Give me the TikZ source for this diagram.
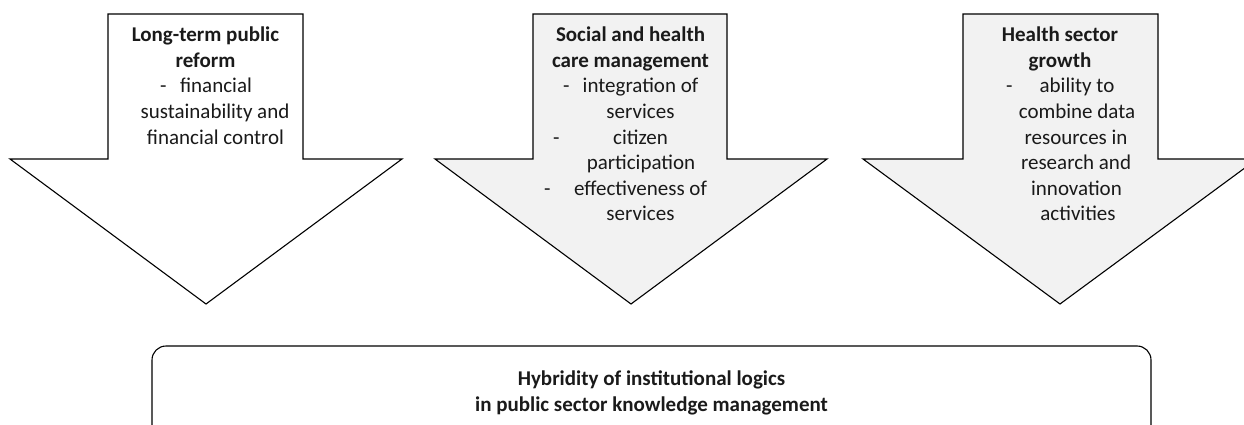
\documentclass[tikz,border=0pt]{standalone}
\usepackage{fontspec}
\setmainfont{Carlito}
\definecolor{arrowgray}{HTML}{F2F2F2}
\definecolor{ink}{HTML}{1A1A1A}
\begin{document}
\begin{tikzpicture}[x=1pt,y=-1pt,
  arrowshape/.style={draw=black, line width=1.1pt, line join=miter},
  txt/.style={anchor=base, inner sep=0pt, text=ink, font=\fontsize{21}{25}\selectfont},
  hd/.style={anchor=base, inner sep=0pt, text=ink, font=\fontsize{21}{25}\selectfont\bfseries},
  dsh/.style={anchor=base west, inner sep=0pt, text=ink, font=\fontsize{21}{25}\selectfont},
  hybridbox/.style={draw=black, line width=1.1pt, rounded corners=14pt}]
\useasboundingbox (0,0) rectangle (1244,425);
\begin{scope}
\clip (0,0) rectangle (1244,425);
% arrow 1
\draw[arrowshape, fill=white] (108,14) -- (303,14) -- (303,159) -- (402,159) -- (206,304) -- (10,159) -- (108,159) -- cycle;
% arrow 2
\draw[arrowshape, fill=arrowgray] (533,14) -- (727,14) -- (727,159) -- (827,159) -- (631,304) -- (435,159) -- (533,159) -- cycle;
% arrow 3
\draw[arrowshape, fill=arrowgray] (963,14) -- (1158,14) -- (1158,159) -- (1257,159) -- (1060,304) -- (863,159) -- (963,159) -- cycle;
% bottom box
\draw[hybridbox] (152,346) rectangle (1151,440);
\end{scope}

% arrow 1 text
\node[hd]  (a1h1) at (205.5,42)  {Long-term public};
\node[hd]  (a1h2) at (205.5,67.5) {reform};
\node[dsh] (a1d1) at (160,93)    {-};
\node[txt] (a1t1) at (216,93)    {financial};
\node[txt] (a1t2) at (215,118.5) {sustainability and};
\node[txt] (a1t3) at (215.5,144) {financial control};

% arrow 2 text
\node[hd]  (a2h1) at (630.5,42)   {Social and health};
\node[hd]  (a2h2) at (630.5,67.5) {care management};
\node[dsh] (a2d1) at (563,93)     {-};
\node[txt] (a2t1) at (640.5,93)   {integration of};
\node[txt] (a2t2) at (640.5,118.5){services};
\node[dsh] (a2d2) at (553,144)    {-};
\node[txt] (a2t3) at (640.5,144)  {citizen};
\node[txt] (a2t4) at (641,169.5)  {participation};
\node[dsh] (a2d3) at (544,195)    {-};
\node[txt] (a2t5) at (640.5,195)  {effectiveness of};
\node[txt] (a2t6) at (640.5,220.5){services};

% arrow 3 text
\node[hd]  (a3h1) at (1060,42)    {Health sector};
\node[hd]  (a3h2) at (1060,67.5)  {growth};
\node[dsh] (a3d1) at (1006,93)    {-};
\node[txt] (a3t1) at (1077,93)    {ability to};
\node[txt] (a3t2) at (1077,118.5) {combine data};
\node[txt] (a3t3) at (1076,144)   {resources in};
\node[txt] (a3t4) at (1076,169.5) {research and};
\node[txt] (a3t5) at (1076.5,195) {innovation};
\node[txt] (a3t6) at (1078,220.5) {activities};

% bottom text
\node[hd] (b1) at (651.5,385) {Hybridity of institutional logics};
\node[hd] (b2) at (651.5,411) {in public sector knowledge management};
\end{tikzpicture}
\end{document}
